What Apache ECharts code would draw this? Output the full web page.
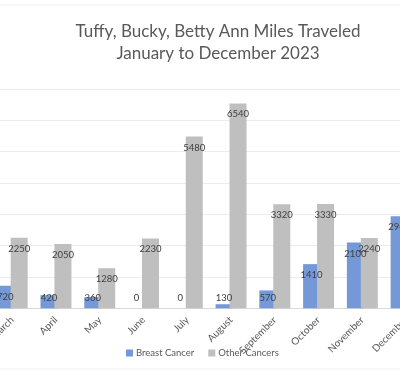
<!DOCTYPE html>
<html>
<head>
<meta charset="utf-8">
<script src="https://cdn.jsdelivr.net/npm/echarts@6/dist/echarts.min.js"></script>
<style>html,body{margin:0;padding:0;background:#fff;overflow:hidden;width:400px;height:376px;position:relative;}#c{position:absolute;left:-13px;top:0;width:441px;height:376px;}</style>
</head>
<body>
<div id="c"></div>
<script>
const categories = ['March','April','May','June','July','August','September','October','November','December'];
const breastCancer = [720, 420, 360, 0, 0, 130, 570, 1410, 2100, 2940];
const otherCancers = [2250, 2050, 1280, 2230, 5480, 6540, 3320, 3330, 2240, null];
const seriesNames = ['Breast Cancer', 'Other Cancers'];
const titleLines = ['Tuffy, Bucky, Betty Ann Miles Traveled', 'January to December 2023'];

const FONT = 'Lato';
const SHIFT = 13; // the chart canvas starts 13px left of the window
function withLabels(vals) {
  return vals.map(v => {
    if (v === null) return null;
    const small = v < 700;
    return {
      value: v,
      label: { position: small ? 'insideBottom' : 'insideTop', distance: small ? 5 : 6 }
    };
  });
}
const chart = echarts.init(document.getElementById('c'), null, {renderer: 'canvas'});
chart.setOption({
  animation: false,
  backgroundColor: '#fff',
  textStyle: { fontFamily: FONT },
  title: {
    text: titleLines.join('\n'),
    left: 213 + SHIFT, top: 16, textAlign: 'center',
    textStyle: { fontFamily: FONT, fontSize: 17, fontWeight: 'normal', color: '#595959', lineHeight: 21.5 }
  },
  legend: {
    data: seriesNames, left: 121 + SHIFT, top: 343, itemWidth: 7, itemHeight: 7, itemGap: 14,
    icon: 'rect',
    textStyle: { fontFamily: FONT, fontSize: 9.5, color: '#595959', padding: [0,0,0,-2] }
  },
  grid: { left: 0, right: 0, top: 89, bottom: 67.7, containLabel: false },
  xAxis: {
    type: 'category', data: categories,
    axisLine: { lineStyle: { color: '#d9d9d9' } },
    axisTick: { show: false },
    axisLabel: { rotate: 45, margin: 10, interval: 0, fontFamily: FONT, fontSize: 10, color: '#595959' }
  },
  yAxis: {
    type: 'value', min: 0, max: 7000, interval: 1000,
    axisLabel: { show: false }, axisLine: { show: false }, axisTick: { show: false },
    splitLine: { lineStyle: { color: '#ececec' } }
  },
  graphic: [
    { type: 'line', shape: { x1: SHIFT, y1: 5, x2: 400 + SHIFT, y2: 5 }, style: { stroke: '#eeeeee', lineWidth: 1 } },
    { type: 'line', shape: { x1: SHIFT, y1: 369, x2: 400 + SHIFT, y2: 369 }, style: { stroke: '#eeeeee', lineWidth: 1 } }
  ],
  series: [
    {
      name: seriesNames[0], type: 'bar', data: withLabels(breastCancer),
      barWidth: 17, barGap: '-18%',
      itemStyle: { color: '#7498d8' },
      label: { show: true, fontFamily: FONT, fontSize: 9.5, color: '#404040' }
    },
    {
      name: seriesNames[1], type: 'bar', data: withLabels(otherCancers),
      barWidth: 17,
      itemStyle: { color: '#bfbfbf' },
      label: { show: true, fontFamily: FONT, fontSize: 9.5, color: '#404040' }
    }
  ]
});
</script>
</body>
</html>
